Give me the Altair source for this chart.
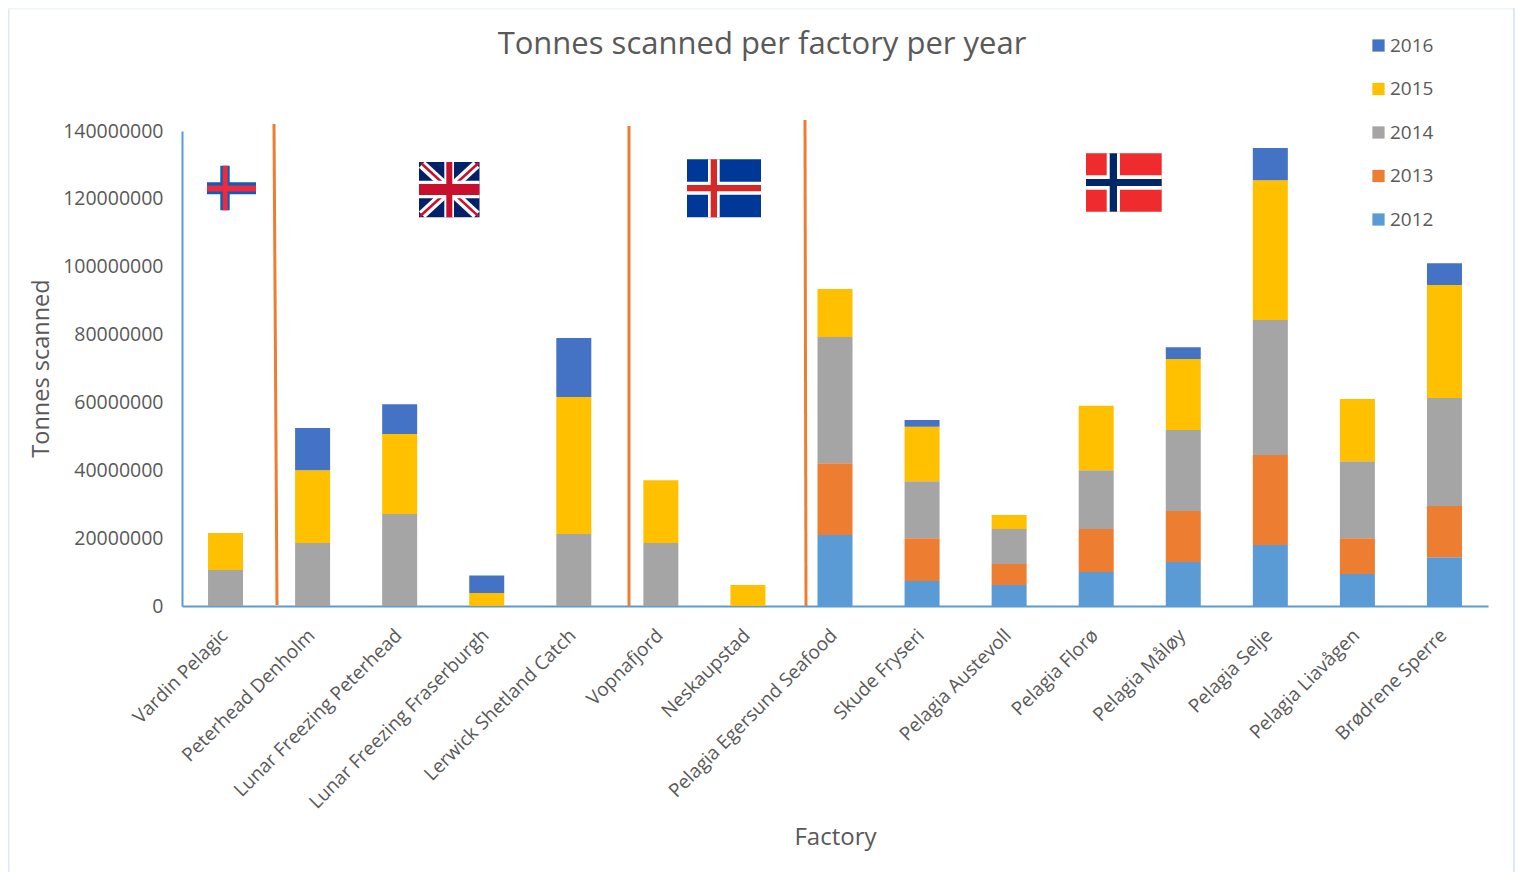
import altair as alt
import pandas as pd

factories = ["Vardin Pelagic", "Peterhead Denholm", "Lunar Freezing Peterhead", "Lunar Freezing Fraserburgh",
             "Lerwick Shetland Catch", "Vopnafjord", "Neskaupstad", "Pelagia Egersund Seafood", "Skude Fryseri",
             "Pelagia Austevoll", "Pelagia Florø", "Pelagia Måløy", "Pelagia Selje", "Pelagia Liavågen",
             "Brødrene Sperre"]
y2012 = [0, 0, 0, 0, 0, 0, 0, 20900000, 7400000, 6200000, 10000000, 13000000, 18000000, 9400000, 14400000]
y2013 = [0, 0, 0, 0, 0, 0, 0, 21200000, 12600000, 6200000, 12700000, 15000000, 26500000, 10600000, 15100000]
y2014 = [10600000, 18600000, 27100000, 0, 21200000, 18600000, 0, 37200000, 16800000, 10300000, 17300000, 23900000, 39800000, 22700000, 31800000]
y2015 = [10900000, 21400000, 23600000, 3800000, 40400000, 18500000, 6200000, 14100000, 16000000, 4100000, 19000000, 20900000, 41200000, 18300000, 33300000]
y2016 = [0, 12500000, 8800000, 5200000, 17400000, 0, 0, 0, 2000000, 0, 0, 3500000, 9500000, 0, 6400000]
years = ["2016", "2015", "2014", "2013", "2012"]
colors = ["#4472C4", "#FFC000", "#A5A5A5", "#ED7D31", "#5B9BD5"]
yticks = [0, 20000000, 40000000, 60000000, 80000000, 100000000, 120000000, 140000000]

series = {"2012": y2012, "2013": y2013, "2014": y2014, "2015": y2015, "2016": y2016}
rows = [{"Factory": f, "Year": yr, "Tonnes": v}
        for yr, vals in series.items() for f, v in zip(factories, vals) if v > 0]
df = pd.DataFrame(rows)

FONT = "Open Sans"
TXT = "#595959"
AXIS = "#5B9BD5"
OX, OY = 182, 131   # page position of the plot origin
ONE = alt.Data(values=[{}])

bars = alt.Chart(df).mark_bar(size=35).encode(
    x=alt.X("Factory:N", sort=factories, title="Factory",
            scale=alt.Scale(paddingInner=0.6, paddingOuter=0.3),
            axis=alt.Axis(labelAngle=-45, labelAlign="right", labelBaseline="middle", labelLimit=500,
                          labelFontSize=19, labelFont=FONT, labelColor=TXT, labelPadding=26, labelOffset=-1,
                          ticks=False, domainColor=AXIS, domainWidth=2,
                          titleFontSize=24, titleFont=FONT, titleColor=TXT, titleFontWeight="normal",
                          titleY=219, titleX=653, grid=False)),
    y=alt.Y("Tonnes:Q", title="Tonnes scanned", stack="zero",
            scale=alt.Scale(domain=[0, 140000000], nice=False),
            axis=alt.Axis(values=yticks, format="d", labelFontSize=19.5, labelFont=FONT, labelColor=TXT,
                          labelPadding=19, ticks=False, domainColor=AXIS, domainWidth=2, grid=False,
                          titleFontSize=23.5, titleFont=FONT, titleColor=TXT, titleFontWeight="normal",
                          titleX=-129, titleY=237)),
    color=alt.Color("Year:N", scale=alt.Scale(domain=years, range=colors),
                    legend=alt.Legend(title=None, orient="none", legendX=1187, legendY=-95,
                                      symbolType="square", symbolSize=150, symbolStrokeWidth=0,
                                      labelFontSize=19, labelFont=FONT, labelColor=TXT,
                                      rowPadding=23.5, labelOffset=2)),
    order=alt.Order("Year:N", sort="ascending"),
)


def box(x0, y0, x1, y1, c):
    return alt.Chart(ONE).mark_rect(color=c).encode(
        x=alt.value(x0 - OX), x2=alt.value(x1 - OX), y=alt.value(y0 - OY), y2=alt.value(y1 - OY))


def line(x0, y0, x1, y1, c, w):
    return alt.Chart(ONE).mark_rule(color=c, strokeWidth=w).encode(
        x=alt.value(x0 - OX), x2=alt.value(x1 - OX), y=alt.value(y0 - OY), y2=alt.value(y1 - OY))


separators = [line(274, 124, 277, 605, "#ED7D31", 3),
              line(629, 126, 629, 606, "#ED7D31", 3),
              line(805, 120, 806, 606, "#ED7D31", 3)]

frame = [line(8.5, 8, 8.5, 872, "#DDE9F7", 2),
         line(8, 8.5, 1514, 8.5, "#EEF3FB", 2),
         line(1514, 8, 1514, 872, "#DDE9F7", 2)]

faroe = [box(207, 182.3, 256, 194.3, "#0B5FB8"), box(220.3, 165.7, 229.7, 210.3, "#0B5FB8"),
         box(207, 185.5, 256, 191.5, "#EE2A3C"), box(222.7, 165.7, 227.7, 210.3, "#EE2A3C")]

uk = [box(419, 162, 479.5, 217.3, "#012169"),
      line(422, 164.5, 476.5, 214.8, "#FFFFFF", 9), line(476.5, 164.5, 422, 214.8, "#FFFFFF", 9),
      line(421, 163, 449, 189, "#C8102E", 2.5), line(450, 190, 478.5, 216.3, "#C8102E", 2.5),
      line(478.5, 163, 450, 189, "#C8102E", 2.5), line(449, 190, 420, 216.3, "#C8102E", 2.5),
      box(444.3, 162, 454, 217.3, "#FFFFFF"), box(419, 180.7, 479.5, 198.3, "#FFFFFF"),
      box(446.3, 162, 452.3, 217.3, "#C8102E"), box(419, 184, 479.5, 195, "#C8102E")]

iceland = [box(687, 159.3, 761, 217.3, "#003897"),
           box(708, 159.3, 719.7, 217.3, "#FFFFFF"), box(687, 181.7, 761, 194.7, "#FFFFFF"),
           box(710.7, 159.3, 717, 217.3, "#D72828"), box(687, 185, 761, 191.3, "#D72828")]

norway = [box(1086, 153.3, 1161.7, 211.7, "#EF2B2D"),
          box(1106.7, 153.3, 1120, 211.7, "#FFFFFF"), box(1086, 175.3, 1161.7, 189.7, "#FFFFFF"),
          box(1109.7, 153.3, 1117, 211.7, "#002868"), box(1086, 179, 1161.7, 186, "#002868")]

chart = alt.layer(*frame, bars, *separators, *faroe, *uk, *iceland, *norway).properties(
    width=1306, height=475,
    padding=alt.Padding(left=174, top=123, right=27, bottom=266),
    autosize=alt.AutoSizeParams(type="none"),
    title=alt.TitleParams("Tonnes scanned per factory per year", anchor="middle", frame="group",
                          fontSize=31, font=FONT, color=TXT, fontWeight="normal", dx=-73, offset=0, dy=54),
).configure_view(stroke=None)

chart.save("out.html", embed_options={"renderer": "svg", "actions": False})
